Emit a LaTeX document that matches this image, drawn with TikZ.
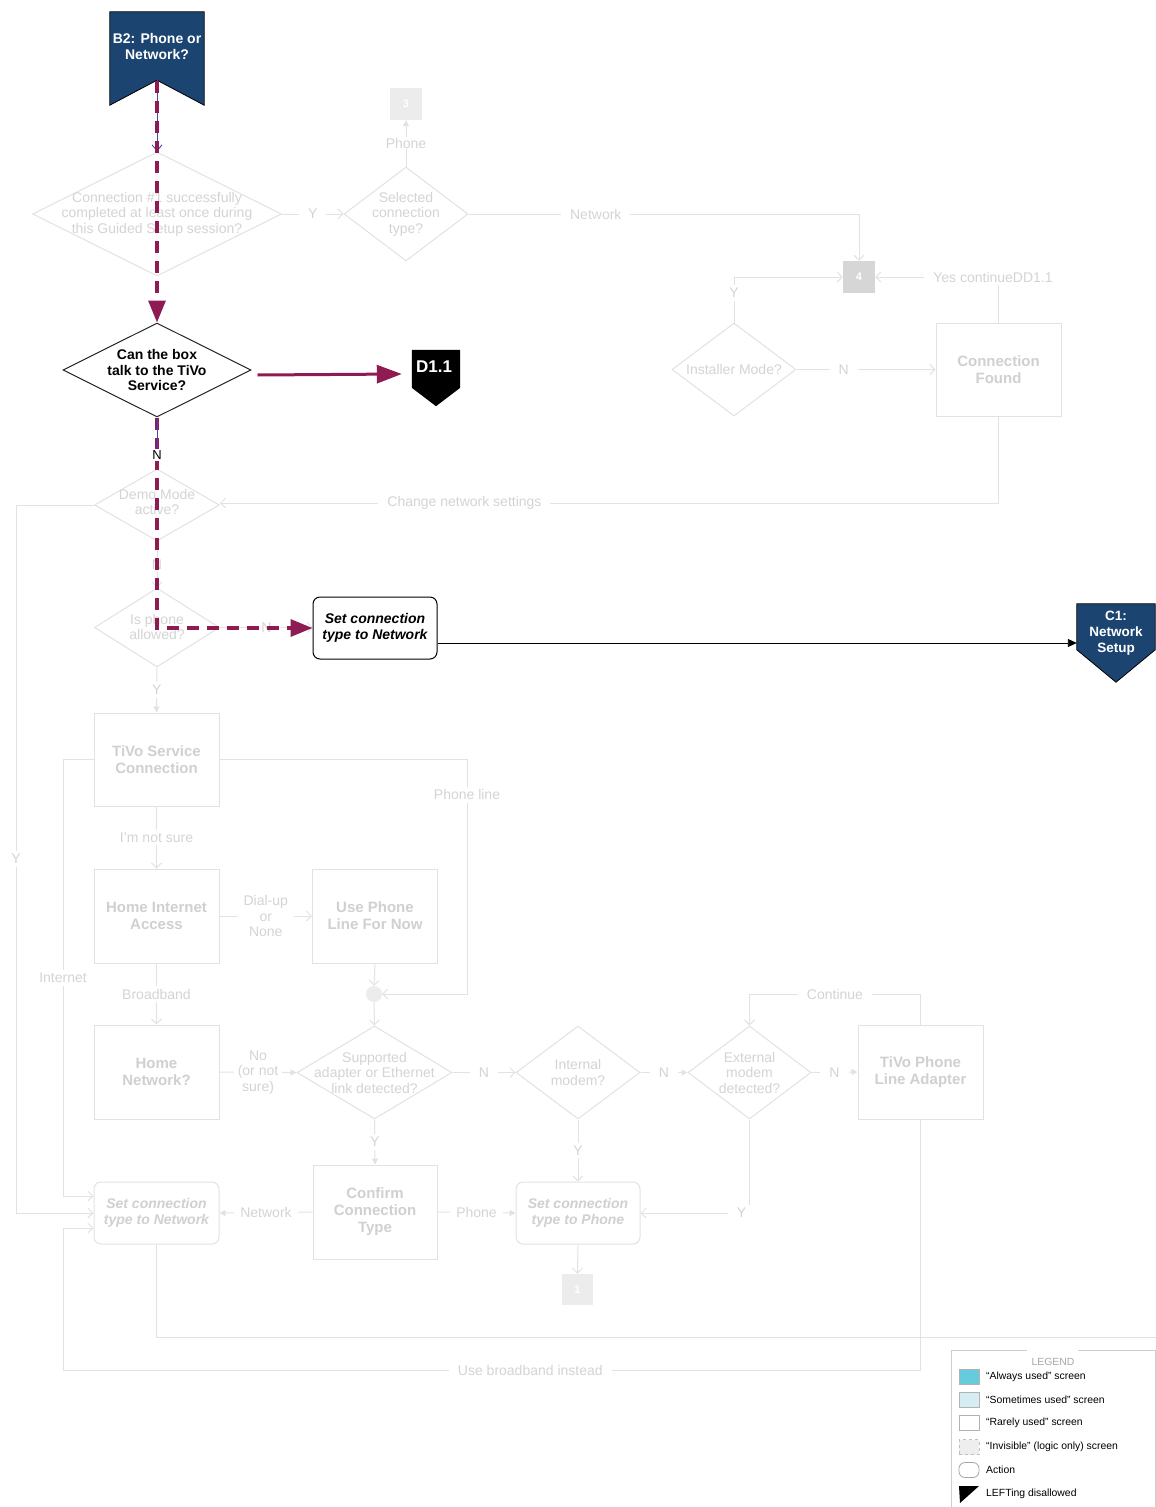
\documentclass[tikz,border=0pt]{standalone}
\usepackage{fontspec}
\setmainfont{Liberation Sans}
\usetikzlibrary{arrows.meta,shapes.geometric,calc}
\definecolor{navy}{RGB}{27,68,112}
\definecolor{mag}{RGB}{142,27,82}
\definecolor{fline}{RGB}{226,226,226}
\definecolor{ftext}{RGB}{212,212,212}
\definecolor{fbold}{RGB}{208,208,208}
\definecolor{gboxA}{RGB}{214,214,214}
\definecolor{gboxB}{RGB}{236,236,236}
\definecolor{thinblue}{RGB}{70,70,175}
\definecolor{legline}{RGB}{205,205,205}
\definecolor{cyanA}{RGB}{102,204,221}
\definecolor{cyanB}{RGB}{214,238,243}
\definecolor{invis}{RGB}{238,238,238}
\begin{document}
\begin{tikzpicture}[x=1pt,y=-1pt,
  fl/.style={draw=fline, line width=1pt},
  fa/.style={-{Straight Barb[length=5pt,width=10pt]}},
  ftri/.style={-{Triangle[length=6pt,width=6pt]}},
  lab/.style={fill=white, text=ftext, font=\fontsize{14}{15.5}\selectfont, inner xsep=9pt, inner ysep=3pt, align=center},
  fbox/.style={draw=fline, line width=1pt, fill=white, text=fbold, font=\bfseries\fontsize{15}{17}\selectfont, align=center, inner sep=0},
  fact/.style={fbox, rounded corners=7pt, font=\bfseries\itshape\fontsize{14}{16}\selectfont},
  fdia/.style={diamond, draw=fline, line width=1pt, fill=white, inner sep=0},
  fdtext/.style={text=ftext, font=\fontsize{14}{15.5}\selectfont, align=center},
  gsq/.style={inner sep=0, text=white, font=\bfseries\fontsize{11}{13}\selectfont, minimum width=32, minimum height=32},
  magdash/.style={draw=mag, line width=3.2pt, dash pattern=on 12pt off 8pt, -{Triangle[length=22pt,width=17pt]}},
  magsolid/.style={draw=mag, line width=3pt, -{Triangle[length=25pt,width=18pt]}},
  bluethin/.style={draw=thinblue, line width=0.9pt},
  legsq/.style={draw=gray!60, line width=0.8pt, inner sep=0, minimum width=20, minimum height=15},
  legtxt/.style={anchor=west, font=\fontsize{10.4}{12}\selectfont, inner sep=0},
  ghost/.style={inner sep=0}
]
\useasboundingbox (0,0) rectangle (1156,1507);

% ---------------- faded nodes ----------------
\node[fdia, minimum width=249, minimum height=124] (d1) at (157,214) {};
\node[fdtext] (d1t) at (d1) {Connection \#1 successfully\\completed at least once during\\this Guided Setup session?};
\node[fdia, minimum width=124, minimum height=94] (d2) at (406,214) {};
\node[fdtext] (d2t) at (d2) {Selected\\connection\\type?};
\node[gsq, fill=gboxB] (b3) at (406,104) {3};
\node[gsq, fill=gboxA] (b4) at (859,277) {4};
\node[fdia, minimum width=124, minimum height=93] (d3) at (734,369.5) {};
\node[fdtext] (d3t) at (d3) {Installer Mode?};
\node[fbox, minimum width=125, minimum height=93] (cf) at (998.5,369.5) {Connection\\Found};

\node[fdia, minimum width=125, minimum height=72] (demo) at (157,505) {};
\node[fdtext] (demot) at (157,502) {Demo Mode\\active?};
\node[fdia, minimum width=125, minimum height=79] (isp) at (157,627.5) {};
\node[fdtext] (ispt) at (157,627) {Is phone\\allowed?};

\node[fbox, minimum width=125, minimum height=93] (tsc) at (156.5,759.5) {TiVo Service\\Connection};
\node[fbox, minimum width=125, minimum height=94] (hia) at (156.5,916) {Home Internet\\Access};
\node[fbox, minimum width=125, minimum height=94] (upl) at (375,916) {Use Phone\\Line For Now};
\node[circle, fill=gboxB, minimum size=16, inner sep=0] (circ) at (374,994) {};
\node[fbox, minimum width=125, minimum height=94] (hn) at (156.5,1072) {Home\\Network?};
\node[fdia, minimum width=155, minimum height=93] (sup) at (374.5,1072.5) {};
\node[fdtext] (supt) at (sup) {Supported\\adapter or Ethernet\\link detected?};
\node[fdia, minimum width=124, minimum height=93] (im) at (578,1072.5) {};
\node[fdtext] (imt) at (im) {Internal\\modem?};
\node[fdia, minimum width=123, minimum height=93] (em) at (749.5,1072.5) {};
\node[fdtext] (emt) at (em) {External\\modem\\detected?};
\node[fbox, minimum width=125, minimum height=94] (tpla) at (920.5,1072) {TiVo Phone\\Line Adapter};
\node[fact, minimum width=125, minimum height=62] (scn2) at (156.5,1213) {Set connection\\type to Network};
\node[fbox, minimum width=124, minimum height=94] (cct) at (375,1212) {Confirm\\Connection\\Type};
\node[fact, minimum width=124, minimum height=62] (scp) at (578,1213) {Set connection\\type to Phone};
\node[gsq, fill=gboxB, minimum width=31, minimum height=31] (b1) at (577.5,1289.5) {1};

\coordinate (lx1) at (16,0);
\coordinate (lx2) at (63,0);
\coordinate (lx3) at (467,0);
\coordinate (ybot) at (0,1370);
\coordinate (yl) at (1156,1337);

% ---------------- faded connectors ----------------
\draw[fl,fa] (d1.east) -- node[lab]{Y} (d2.west);
\draw[fl,ftri] (d2.north) -- node[lab,inner ysep=1pt]{Phone} (b3.south);
\draw[fl,fa] (d2.east) -- node[lab,pos=0.326]{Network} (d2.east -| b4.north) -- (b4.north);
\draw[fl,fa] (d3.north) -- node[lab,pos=0.65]{Y} (d3.north |- b4.west) -- (b4.west);
\draw[fl,fa] (cf.north) -- (cf.north |- b4.east) -- (b4.east);
\node[lab] (ycl) at ([xshift=-5.5pt]cf.north |- b4.east) {Yes continueDD1.1};
\draw[fl,fa] (d3.east) -- node[lab,pos=0.34]{N} (cf.west);
\draw[fl,fa] (cf.south) |- node[lab,pos=0.843]{Change network settings} ([yshift=2pt]demo.east);

\draw[fl,fa] (demo.west) -- (demo.west -| lx1) -- node[lab]{Y} (scn2.west -| lx1) -- (scn2.west);
\draw[fl,fa] (demo.south) -- node[lab]{N} (isp.north);
\draw[fl,fa] (isp.east) -- node[lab]{N} (313,627.5);
\draw[fl,ftri] (isp.south) -- node[lab]{Y} (tsc.north);

\draw[fl,fa] (tsc.west) -- (tsc.west -| lx2) -- node[lab]{Internet} ([yshift=17pt]scn2.west -| lx2) -- ([yshift=17pt]scn2.west);
\draw[fl,fa] (tsc.east) -- (tsc.east -| lx3) -- node[lab,pos=0.15]{Phone line} (circ -| lx3) -- (circ.east);
\draw[fl,fa] (tsc.south) -- node[lab]{I'm not sure} (hia.north);
\draw[fl,fa] (hia.east) -- node[lab,inner xsep=6pt]{Dial-up\\or\\None} (upl.west);
\draw[fl,fa] (upl.south) -- (circ.north);
\draw[fl,fa] (circ.south) -- (sup.north);
\draw[fl,fa] (hia.south) -- node[lab]{Broadband} (hn.north);
\draw[fl,ftri] (hn.east) -- node[lab,inner xsep=4pt]{No\\(or not\\sure)} (sup.west);
\draw[fl,fa] (sup.east) -- node[lab]{N} (im.west);
\draw[fl,ftri] (sup.south) -- node[lab]{Y} (cct.north);
\draw[fl,ftri] (im.east) -- node[lab]{N} (em.west);
\draw[fl,fa] (im.south) -- node[lab]{Y} (scp.north);
\draw[fl,ftri] (em.east) -- node[lab]{N} (tpla.west);
\draw[fl,fa] (em.south) |- (scp.east);
\node[lab] (eml) at ([xshift=-8pt]em.south |- scp.east) {Y};
\draw[fl,fa] (tpla.north) -- (tpla.north |- circ) -- node[lab]{Continue} (em.north |- circ) -- (em.north);
\draw[fl,fa] (tpla.south) -- (tpla.south |- ybot) -- node[lab,pos=0.455]{Use broadband instead} (lx2 |- ybot) -- ([yshift=-15pt]scn2.west -| lx2) -- ([yshift=-15pt]scn2.west);
\draw[fl] (scn2.south) |- (yl);
\draw[fl,ftri] (cct.west) -- node[lab,inner xsep=6pt]{Network} (scn2.east);
\draw[fl,ftri] (cct.east) -- node[lab,inner xsep=6pt]{Phone} (scp.west);
\draw[fl,fa] (scp.south) -- (b1.north);

% ---------------- active nodes ----------------
\node[ghost, minimum width=94, minimum height=93] (b2) at (157,58.5) {};
\filldraw[fill=navy, draw=black, line width=0.8pt] (b2.north west) -- (b2.north east) -- (b2.south east) -- ([yshift=25pt]b2.south) -- (b2.south west) -- cycle;
\node[text=white, font=\bfseries\fontsize{14}{16}\selectfont, align=center] (b2t) at (157,46) {B2: Phone or\\Network?};

\node[diamond, draw=black!85, line width=1pt, fill=white, inner sep=0, minimum width=188, minimum height=94] (can) at (157,370) {};
\node[font=\bfseries\fontsize{14}{15.5}\selectfont, align=center] (cant) at (157,370) {Can the box\\talk to the TiVo\\Service?};

\node[ghost, minimum width=48, minimum height=56] (d11) at (436,378) {};
\fill[black] (d11.north west) -- (d11.north east) -- ([yshift=-38pt]d11.north east) -- (d11.south) -- ([yshift=-38pt]d11.north west) -- cycle;
\node[text=white, font=\bfseries\fontsize{17}{19}\selectfont] (d11t) at (434,367) {D1.1};

\node[draw=black, line width=1pt, rounded corners=7pt, fill=white, minimum width=124, minimum height=62, inner sep=0, align=center, font=\bfseries\itshape\fontsize{14}{16}\selectfont] (scn) at (375,628) {Set connection\\type to Network};

\node[ghost, minimum width=78, minimum height=78] (c1) at (1116,643) {};
\filldraw[fill=navy, draw=black, line width=0.8pt] (c1.north west) -- (c1.north east) -- ([yshift=-46pt]c1.north east) -- (c1.south) -- ([yshift=-46pt]c1.north west) -- cycle;
\node[text=white, font=\bfseries\fontsize{13.5}{16}\selectfont, align=center] (c1t) at (1116,633) {C1:\\Network\\Setup};

\draw[black, line width=0.9pt, -{Triangle[length=9pt,width=8pt]}] ([yshift=-15pt]scn.east) -- (c1.west);

% ---------------- highlighted path ----------------
\draw[bluethin, -{Straight Barb[length=6pt,width=10pt]}] ([yshift=25pt]b2.south) -- (d1.north);
\draw[magdash] ([yshift=24pt]b2.south) -- (can.north);
\draw[magsolid] ([shift={(6pt,-5pt)}]can.east) -- ([shift={(-10pt,4pt)}]d11.west);
\draw[magdash] (can.south) |- (scn.west);
\node[fill=white, inner sep=1.5pt, font=\fontsize{13}{15}\selectfont] (nl) at (157,455) {N};
\draw[bluethin] (can.south) -- (nl.north);

% ---------------- legend ----------------
\draw[legline, line width=0.8pt] (1027,1350) -- (951,1350) -- (951,1507);
\draw[legline, line width=0.8pt] (1078,1350) -- (1155,1350) -- (1155,1507);
\node[text=gray!70, font=\fontsize{10.4}{12}\selectfont] (legh) at (1053,1362) {LEGEND};
\node[legsq, fill=cyanA] (lg1) at (969,1377) {};
\node[legtxt] (lg1t) at (986,1377) {“Always used” screen};
\node[legsq, fill=cyanB] (lg2) at (969,1400) {};
\node[legtxt] (lg2t) at (986,1400) {“Sometimes used” screen};
\node[legsq, fill=white] (lg3) at (969,1423) {};
\node[legtxt] (lg3t) at (986,1423) {“Rarely used” screen};
\node[legsq, fill=invis, dashed, draw=gray!50] (lg4) at (969,1447) {};
\node[legtxt] (lg4t) at (986,1447) {“Invisible” (logic only) screen};
\node[legsq, fill=white, rounded corners=6pt, draw=gray!70] (lg5) at (969,1470) {};
\node[legtxt] (lg5t) at (986,1470) {Action};
\fill[black] (959,1486) -- (979,1486) -- (960,1503) -- cycle;
\node[legtxt] (lg6t) at (986,1494) {LEFTing disallowed};
\end{tikzpicture}
\end{document}
